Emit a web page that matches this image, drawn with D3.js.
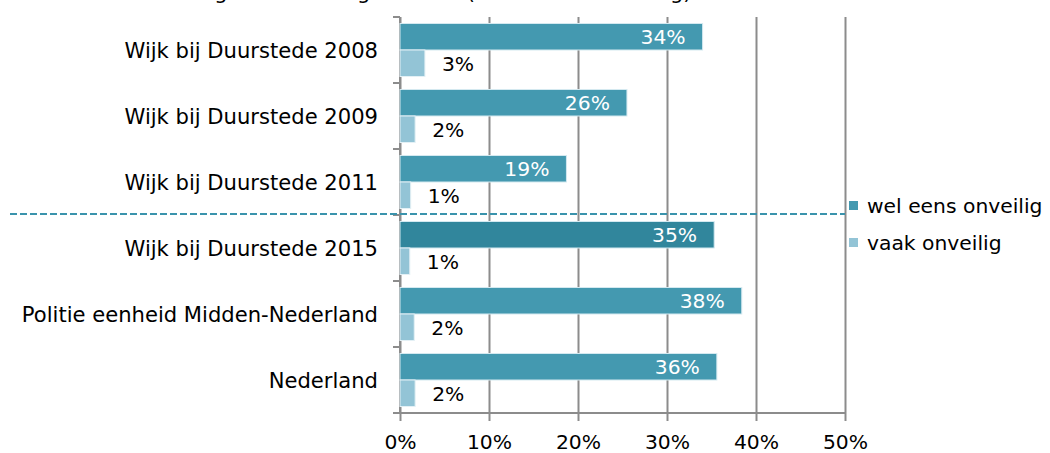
<!DOCTYPE html>
<html lang="nl">
<head>
    <meta charset="UTF-8">
    <title>Onveiligheid in de buurt</title>
    <style>
        body { margin: 0; background: #fff; }
        text { font-family: "DejaVu Sans", Verdana, sans-serif; }
    </style>
</head>
<body>
<script type='text/javascript' src='https://d3js.org/d3.v7.min.js'></script>
<script>
    // data
    var categories = ["Wijk bij Duurstede 2008", "Wijk bij Duurstede 2009", "Wijk bij Duurstede 2011",
                      "Wijk bij Duurstede 2015", "Politie eenheid Midden-Nederland", "Nederland"];
    var welEens = [34.0, 25.5, 18.7, 35.3, 38.4, 35.6];
    var vaak = [2.8, 1.7, 1.2, 1.1, 1.6, 1.7];
    var welEensLabels = ["34%", "26%", "19%", "35%", "38%", "36%"];
    var vaakLabels = ["3%", "2%", "1%", "1%", "2%", "2%"];
    var seriesNames = ["wel eens onveilig", "vaak onveilig"];
    var xTicks = [0, 10, 20, 30, 40, 50];

    const xSize = 1050;
    const ySize = 453;
    const plotLeft = 400, plotRight = 845, plotTop = 17, plotBottom = 413;

    const svg = d3.select("body")
        .append("svg")
        .attr("width", xSize)
        .attr("height", ySize);

    // title, mostly cut off at the top of the picture
    svg.append("text")
        .attr("x", 20)
        .attr("y", -1)
        .attr("font-size", 21)
        .attr("fill", "#000")
        .text("Gevoel van onveiligheid in de eigen buurt (% wel eens onveilig)");

    var x = d3.scaleLinear().domain([0, 50]).range([plotLeft, plotRight]);
    var y = d3.scaleBand().domain(categories).range([plotTop, plotBottom]).padding(0);
    var inner = d3.scaleBand().domain(seriesNames).range([0, y.bandwidth()])
        .paddingInner(0).paddingOuter(0.245);

    var colorDark = "#4499b0";
    var color2015 = "#31869c";
    var colorLight = "#93c4d6";
    var gridColor = "#8c8c8c";

    // gridlines
    var grid = svg.append("g")
        .attr("transform", "translate(0," + plotBottom + ")")
        .call(d3.axisBottom(x).tickValues(xTicks).tickSize(-(plotBottom - plotTop)).tickFormat(""));
    grid.select(".domain").remove();
    grid.selectAll("line").attr("stroke", gridColor).attr("stroke-width", 2);

    // x axis
    var xAxis = svg.append("g")
        .attr("transform", "translate(0," + plotBottom + ")")
        .call(d3.axisBottom(x).tickValues(xTicks).tickSize(8).tickPadding(14)
            .tickFormat(function(d) { return d + "%"; }));
    xAxis.select(".domain").attr("stroke", gridColor).attr("stroke-width", 2)
        .attr("d", "M" + (plotLeft - 7) + ",0H" + plotRight);
    xAxis.selectAll("line").attr("stroke", gridColor).attr("stroke-width", 2);
    xAxis.selectAll("text").attr("font-size", 20.3).attr("fill", "#000")
        .attr("font-family", "DejaVu Sans");

    // category axis: line and ticks at band edges
    svg.append("line")
        .attr("x1", plotLeft).attr("x2", plotLeft)
        .attr("y1", plotTop).attr("y2", plotBottom)
        .attr("stroke", gridColor).attr("stroke-width", 2);
    svg.selectAll("line.ytick")
        .data(categories)
        .enter()
        .append("line")
        .attr("class", "ytick")
        .attr("x1", plotLeft - 7).attr("x2", plotLeft)
        .attr("y1", function(d) { return y(d); })
        .attr("y2", function(d) { return y(d); })
        .attr("stroke", gridColor).attr("stroke-width", 2);

    svg.selectAll("text.cat")
        .data(categories)
        .enter()
        .append("text")
        .attr("class", "cat")
        .attr("x", 378)
        .attr("y", function(d) { return y(d) + y.bandwidth() / 2; })
        .attr("dy", "0.36em")
        .attr("text-anchor", "end")
        .attr("font-size", 21.1)
        .attr("fill", "#000")
        .text(function(d) { return d; });

    // bars
    var groups = svg.selectAll("g.cat")
        .data(categories)
        .enter()
        .append("g")
        .attr("class", "cat")
        .attr("transform", function(d) { return "translate(0," + y(d) + ")"; });

    groups.append("rect")
        .attr("x", x(0))
        .attr("y", inner(seriesNames[0]))
        .attr("width", function(d, i) { return x(welEens[i]) - x(0); })
        .attr("height", inner.bandwidth())
        .attr("fill", function(d, i) { return i === 3 ? color2015 : colorDark; })
        .attr("stroke", "#d4e9f0").attr("stroke-width", 1);

    groups.append("rect")
        .attr("x", x(0))
        .attr("y", inner(seriesNames[1]))
        .attr("width", function(d, i) { return x(vaak[i]) - x(0); })
        .attr("height", inner.bandwidth())
        .attr("fill", colorLight)
        .attr("stroke", "#e3f0f5").attr("stroke-width", 1);

    groups.append("text")
        .attr("x", function(d, i) { return x(welEens[i]) - 17; })
        .attr("y", inner(seriesNames[0]) + inner.bandwidth() / 2)
        .attr("dy", "0.36em")
        .attr("text-anchor", "end")
        .attr("font-size", 20.3)
        .attr("fill", "#fff")
        .text(function(d, i) { return welEensLabels[i]; });

    groups.append("text")
        .attr("x", function(d, i) { return x(vaak[i]) + 17; })
        .attr("y", inner(seriesNames[1]) + inner.bandwidth() / 2)
        .attr("dy", "0.36em")
        .attr("font-size", 20.3)
        .attr("fill", "#000")
        .text(function(d, i) { return vaakLabels[i]; });

    // dashed separator before 2015
    svg.append("line")
        .attr("x1", 10).attr("x2", plotRight)
        .attr("y1", y(categories[3]) - 1).attr("y2", y(categories[3]) - 1)
        .attr("stroke", "#3a93ac").attr("stroke-width", 2)
        .attr("stroke-dasharray", "7,3");

    // legend
    var legend = svg.selectAll("g.legend")
        .data(seriesNames)
        .enter()
        .append("g")
        .attr("class", "legend")
        .attr("transform", function(d, i) { return "translate(849," + (201 + i * 37) + ")"; });
    legend.append("rect")
        .attr("width", 9).attr("height", 9)
        .attr("fill", function(d, i) { return i === 0 ? colorDark : colorLight; });
    legend.append("text")
        .attr("x", 18)
        .attr("y", 4.5)
        .attr("dy", "0.36em")
        .attr("font-size", 20.3)
        .attr("fill", "#000")
        .text(function(d) { return d; });
</script>
</body>
</html>
